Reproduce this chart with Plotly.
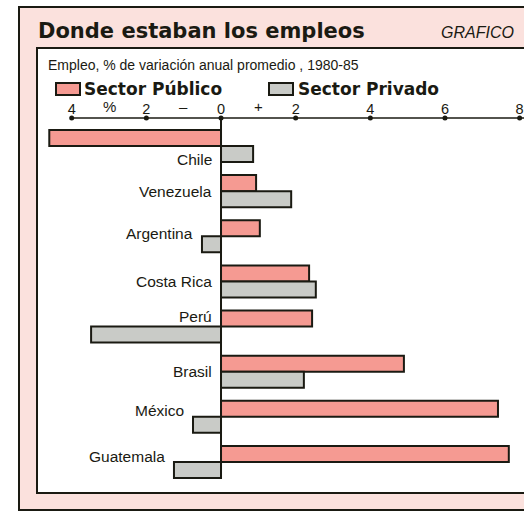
import plotly.graph_objects as go

# ---- data ----
countries = ["Chile", "Venezuela", "Argentina", "Costa Rica", "Perú", "Brasil", "México", "Guatemala"]
sector_publico = [-4.6, 0.94, 1.04, 2.36, 2.44, 4.9, 7.42, 7.71]
sector_privado = [0.86, 1.88, -0.51, 2.54, -3.48, 2.22, -0.75, -1.26]
tick_vals = [-4, -2, 0, 2, 4, 6, 8]
tick_text = ["4", "2", "0", "2", "4", "6", "8"]

# ---- layout constants ----
W, H = 524, 513
ML, MR, MT, MB = 40, 0, 118, 28
PW, PH = W - ML - MR, H - MT - MB
X_RANGE = [-4.849, 8.117]
Y_RANGE = [7.51, -0.62]

def px(x):
    return (x - ML) / PW

def py(y):
    return (H - MB - y) / PH

PINK = "#f59a92"
GRAY = "#c9cbc7"
FRAME = "#fbe1dd"
INK = "#1a1a12"
LBL_FONT = "Liberation Sans, Arial, sans-serif"
BOLD_FONT = "DejaVu Sans, Verdana, sans-serif"

idx = list(range(len(countries)))

fig = go.Figure()
fig.add_trace(go.Bar(
    y=idx, x=sector_publico, orientation="h", name="Sector Público",
    marker=dict(color=PINK, line=dict(color=INK, width=2)),
    hoverinfo="x+name",
))
fig.add_trace(go.Bar(
    y=idx, x=sector_privado, orientation="h", name="Sector Privado",
    marker=dict(color=GRAY, line=dict(color=INK, width=2)),
    hoverinfo="x+name",
))
# axis dots
fig.add_trace(go.Scatter(
    x=tick_vals, y=[Y_RANGE[1]] * len(tick_vals), mode="markers",
    marker=dict(color=INK, size=5), cliponaxis=False,
    showlegend=False, hoverinfo="skip",
))

shapes = [
    # outer pink frame
    dict(type="rect", xref="paper", yref="paper", x0=px(19), x1=px(570), y0=py(510), y1=py(7),
         fillcolor=FRAME, line=dict(color=INK, width=2), layer="below"),
    # inner white box
    dict(type="rect", xref="paper", yref="paper", x0=px(37), x1=px(570), y0=py(493), y1=py(48),
         fillcolor="white", line=dict(color=INK, width=2), layer="below"),
    # axis line
    dict(type="line", xref="x", yref="paper", x0=-4, x1=9, y0=1, y1=1,
         line=dict(color=INK, width=1.5)),
    # zero line
    dict(type="line", xref="x", yref="y", x0=0, x1=0, y0=Y_RANGE[1], y1=len(countries) - 1 + 0.36,
         line=dict(color=INK, width=2)),
    # legend swatches
    dict(type="rect", xref="paper", yref="paper", x0=px(56), x1=px(80), y0=py(95), y1=py(83),
         fillcolor=PINK, line=dict(color=INK, width=2)),
    dict(type="rect", xref="paper", yref="paper", x0=px(269), x1=px(293), y0=py(95), y1=py(83),
         fillcolor=GRAY, line=dict(color=INK, width=2)),
]

annotations = [
    dict(text="<b>Donde estaban los empleos</b>", xref="paper", yref="paper", x=px(36), y=py(31),
         xanchor="left", yanchor="middle", showarrow=False,
         font=dict(family=BOLD_FONT, size=21, color=INK)),
    dict(text="<i>GRAFICO</i>", xref="paper", yref="paper", x=px(439), y=py(32),
         xanchor="left", yanchor="middle", showarrow=False,
         font=dict(family=LBL_FONT, size=16, color=INK)),
    dict(text="Empleo, % de variación anual promedio , 1980-85", xref="paper", yref="paper",
         x=px(46), y=py(65), xanchor="left", yanchor="middle", showarrow=False,
         font=dict(family=LBL_FONT, size=14, color=INK)),
    dict(text="<b>Sector Público</b>", xref="paper", yref="paper", x=px(82), y=py(89),
         xanchor="left", yanchor="middle", showarrow=False,
         font=dict(family=BOLD_FONT, size=17, color=INK)),
    dict(text="<b>Sector Privado</b>", xref="paper", yref="paper", x=px(296), y=py(89),
         xanchor="left", yanchor="middle", showarrow=False,
         font=dict(family=BOLD_FONT, size=17, color=INK)),
]
for xv, sym in [(-3, "%"), (-1, "–"), (1, "+")]:
    annotations.append(dict(text=sym, xref="x", yref="paper", x=xv, y=py(107),
                            xanchor="center", yanchor="middle", showarrow=False,
                            font=dict(family=LBL_FONT, size=15, color=INK)))

# country labels
label_dy = [0.3, 0.0, -0.07, 0.0, -0.22, 0.0, -0.15, -0.13]
for i, name in enumerate(countries):
    priv = sector_privado[i]
    lx = min(0, priv) if priv > -2 else 0
    annotations.append(dict(text=name, xref="x", yref="y", x=lx, y=i + label_dy[i],
                            xanchor="right", yanchor="middle", xshift=-7, showarrow=False,
                            font=dict(family=LBL_FONT, size=15.5, color=INK)))

fig.update_layout(
    width=W, height=H,
    margin=dict(l=ML, r=MR, t=MT, b=MB, pad=0),
    paper_bgcolor="white", plot_bgcolor="rgba(0,0,0,0)",
    barmode="group", bargap=0.29, bargroupgap=0,
    showlegend=False,
    shapes=shapes, annotations=annotations,
    xaxis=dict(range=X_RANGE, side="top", tickvals=tick_vals, ticktext=tick_text,
               showgrid=False, zeroline=False, showline=False, ticks="",
               tickfont=dict(family=LBL_FONT, size=14.5, color=INK)),
    yaxis=dict(range=Y_RANGE, showticklabels=False, showgrid=False, zeroline=False,
               showline=False, ticks=""),
)

fig.write_html("out.html", config={"displayModeBar": False},
               post_script="document.body.style.margin='0px';")
